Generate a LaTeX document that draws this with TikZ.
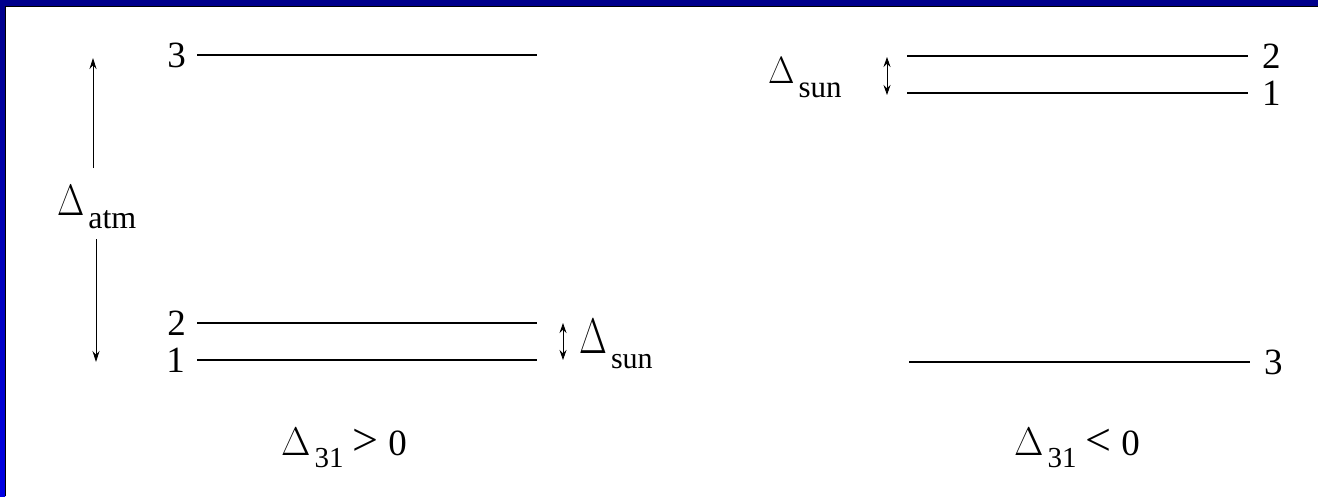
\RequirePackage{fix-cm}
\documentclass[tikz,border=0pt]{standalone}
\usepackage{fontspec}
\setmainfont{Liberation Serif}
\usetikzlibrary{arrows.meta,positioning}

\definecolor{framenavy}{RGB}{0,0,140}
\definecolor{frameblue}{RGB}{0,0,228}

% Delta with a lowered index: size, width factor, index size, index, drop
\newcommand{\dlab}[5]{{\fontsize{#1}{#1}\selectfont\scalebox{#2}[1]{$\Delta$}}\hspace{4pt}\raisebox{-#5}{\fontsize{#3}{#3}\selectfont #4}}

\begin{document}
\begin{tikzpicture}[
   x=1pt,y=-1pt,
   level/.style={line width=2.4pt},
   gap/.style={line width=0.9pt,{Stealth[length=10pt,width=7pt]}-{Stealth[length=10pt,width=7pt]}},
   up/.style={line width=0.9pt,-{Stealth[length=11pt,width=7pt]}},
   lab/.style={inner sep=0pt,font=\fontsize{37}{40}\selectfont},
   dl/.style={inner sep=0pt,anchor=base west}
 ]
  \useasboundingbox (0,0) rectangle (1318,496);
  % frame
  \fill[framenavy] (0,0) rectangle (1318,6);
  \shade[top color=framenavy,bottom color=frameblue] (0,6) rectangle (5,496);
  \draw[black,line width=1.5pt] (5.5,496) -- (5.5,6.5) -- (1318,6.5);

  % normal ordering
  \coordinate (a3w) at (197,55);  \coordinate (a3e) at (537,55);
  \coordinate (a2w) at (197,323); \coordinate (a2e) at (537,323);
  \coordinate (a1w) at (197,360); \coordinate (a1e) at (537,360);
  \draw[level] (a3w) -- (a3e);
  \draw[level] (a2w) -- (a2e);
  \draw[level] (a1w) -- (a1e);
  \node[lab,left=11pt of a3w] (n3) {3};
  \node[lab,left=11pt of a2w] (n2) {2};
  \node[lab,left=12pt of a1w] (n1) {1};

  \node[dl] (datm) at (57,215) {\dlab{44}{0.8}{32}{atm}{13pt}};
  \coordinate (atm1) at (93,168); \coordinate (atm2) at (93,58);
  \coordinate (atm3) at (96,239); \coordinate (atm4) at (96,362);
  \draw[up] (atm1) -- (atm2);
  \draw[up] (atm3) -- (atm4);

  \coordinate (s1) at (563,360); \coordinate (s2) at (563,323);
  \draw[gap] (s1) -- (s2);
  \node[dl] (dsun) at (579,353) {\dlab{50}{0.72}{30}{sun}{15pt}};

  \node[dl] (cnorm) at (281,455) {\dlab{40}{0.95}{29}{31}{12pt}\hspace{9pt}{\fontsize{46}{46}\selectfont >}\hspace{10pt}{\fontsize{37}{37}\selectfont 0}};

  % inverted ordering
  \coordinate (b2w) at (907,56);  \coordinate (b2e) at (1248,56);
  \coordinate (b1w) at (907,93);  \coordinate (b1e) at (1248,93);
  \coordinate (b3w) at (909,362); \coordinate (b3e) at (1250,362);
  \draw[level] (b2w) -- (b2e);
  \draw[level] (b1w) -- (b1e);
  \draw[level] (b3w) -- (b3e);
  \node[lab,right=14pt of b2e] (m2) {2};
  \node[lab,right=14pt of b1e] (m1) {1};
  \node[lab,right=14pt of b3e] (m3) {3};

  \coordinate (t1) at (887,95); \coordinate (t2) at (887,57);
  \draw[gap] (t1) -- (t2);
  \node[dl] (dsun2) at (768,83) {\dlab{38}{0.9}{31}{sun}{14pt}};

  \node[dl] (cinv) at (1014,455) {\dlab{40}{0.95}{29}{31}{12pt}\hspace{9pt}{\fontsize{46}{46}\selectfont <}\hspace{10pt}{\fontsize{37}{37}\selectfont 0}};
 \end{tikzpicture}
\end{document}
